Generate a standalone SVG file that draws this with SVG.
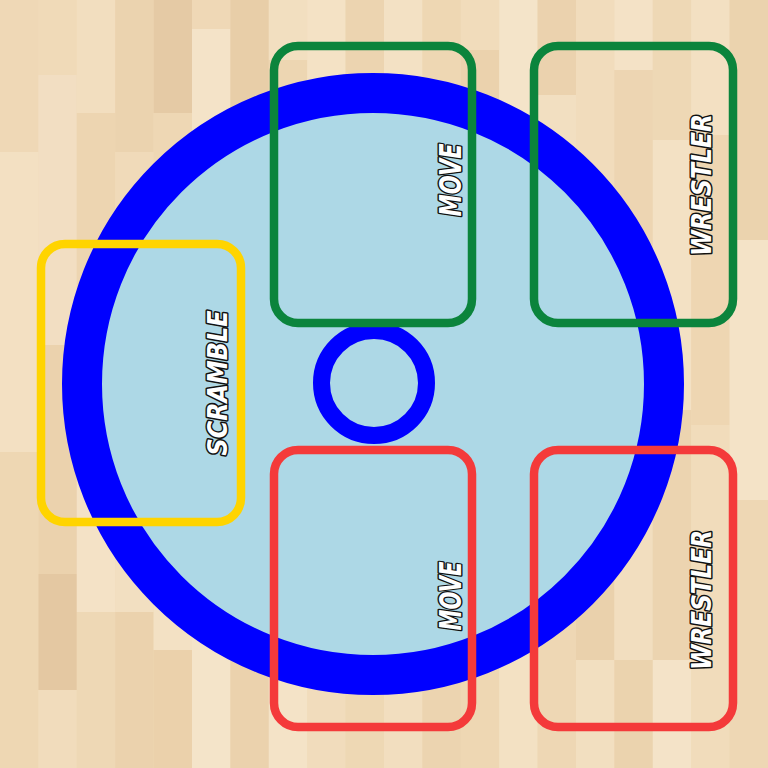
<svg xmlns="http://www.w3.org/2000/svg" width="768" height="768" viewBox="0 0 768 768">
<style>
.box{fill:none;stroke-width:8.5}
.green{stroke:#0b843c}
.red{stroke:#f43a3a}
.yellow{stroke:#ffd400}
.lbl{font-family:"DejaVu Sans Condensed","DejaVu Sans",sans-serif;font-weight:bold;font-style:oblique;fill:#ffffff;stroke:#111111;stroke-width:3;paint-order:stroke fill;stroke-linejoin:round;text-anchor:middle}
</style>
<g id="floor">
<rect x="0" y="0" width="768" height="768" fill="#f0dbb9"/>
<rect x="0" y="0" width="38.4" height="152" fill="#efd8b6"/>
<rect x="0" y="152" width="38.4" height="300" fill="#f3e0c2"/>
<rect x="0" y="452" width="38.4" height="316" fill="#eed7b3"/>
<rect x="38.4" y="0" width="38.4" height="75" fill="#f0dab8"/>
<rect x="38.4" y="75" width="38.4" height="270" fill="#f2dec2"/>
<rect x="38.4" y="345" width="38.4" height="229" fill="#ebd2ad"/>
<rect x="38.4" y="574" width="38.4" height="116" fill="#e4c8a2"/>
<rect x="38.4" y="690" width="38.4" height="78" fill="#f1dcbc"/>
<rect x="76.8" y="0" width="38.4" height="113" fill="#f2debf"/>
<rect x="76.8" y="113" width="38.4" height="187" fill="#edd5b1"/>
<rect x="76.8" y="300" width="38.4" height="312" fill="#f4e2c6"/>
<rect x="76.8" y="612" width="38.4" height="156" fill="#eed8b5"/>
<rect x="115.2" y="0" width="38.4" height="152" fill="#ebd3af"/>
<rect x="115.2" y="152" width="38.4" height="268" fill="#f0dab9"/>
<rect x="115.2" y="420" width="38.4" height="192" fill="#f2dfc1"/>
<rect x="115.2" y="612" width="38.4" height="156" fill="#ebd2ad"/>
<rect x="153.6" y="0" width="38.4" height="113" fill="#e5caa5"/>
<rect x="153.6" y="113" width="38.4" height="267" fill="#eed7b4"/>
<rect x="153.6" y="380" width="38.4" height="270" fill="#f3e1c4"/>
<rect x="153.6" y="650" width="38.4" height="118" fill="#ebd1ab"/>
<rect x="192" y="0" width="38.4" height="29" fill="#efd8b6"/>
<rect x="192" y="29" width="38.4" height="231" fill="#f4e3c8"/>
<rect x="192" y="260" width="38.4" height="350" fill="#ebd3ae"/>
<rect x="192" y="610" width="38.4" height="158" fill="#f4e4c9"/>
<rect x="230.4" y="0" width="38.4" height="180" fill="#e8cea8"/>
<rect x="230.4" y="180" width="38.4" height="240" fill="#f1dcbc"/>
<rect x="230.4" y="420" width="38.4" height="192" fill="#f3e0c2"/>
<rect x="230.4" y="612" width="38.4" height="156" fill="#ebd2ad"/>
<rect x="268.8" y="0" width="38.4" height="60" fill="#f2dfc0"/>
<rect x="268.8" y="60" width="38.4" height="300" fill="#edd6b2"/>
<rect x="268.8" y="360" width="38.4" height="290" fill="#f0dbb9"/>
<rect x="268.8" y="650" width="38.4" height="118" fill="#f4e3c7"/>
<rect x="307.2" y="0" width="38.4" height="140" fill="#f4e2c5"/>
<rect x="307.2" y="140" width="38.4" height="300" fill="#ebd2ae"/>
<rect x="307.2" y="440" width="38.4" height="328" fill="#f1dcbc"/>
<rect x="345.6" y="0" width="38.4" height="90" fill="#ecd4b0"/>
<rect x="345.6" y="90" width="38.4" height="380" fill="#f2dfc0"/>
<rect x="345.6" y="470" width="38.4" height="298" fill="#eed8b4"/>
<rect x="384" y="0" width="38.4" height="200" fill="#f3e1c4"/>
<rect x="384" y="200" width="38.4" height="300" fill="#e9d0ab"/>
<rect x="384" y="500" width="38.4" height="268" fill="#f2debf"/>
<rect x="422.4" y="0" width="38.4" height="120" fill="#eed7b3"/>
<rect x="422.4" y="120" width="38.4" height="330" fill="#f4e3c7"/>
<rect x="422.4" y="450" width="38.4" height="318" fill="#ecd4b0"/>
<rect x="460.8" y="0" width="38.4" height="50" fill="#f1dcbb"/>
<rect x="460.8" y="50" width="38.4" height="260" fill="#ebd2ad"/>
<rect x="460.8" y="310" width="38.4" height="300" fill="#f3e0c3"/>
<rect x="460.8" y="610" width="38.4" height="158" fill="#eed7b3"/>
<rect x="499.2" y="0" width="38.4" height="160" fill="#f4e4c9"/>
<rect x="499.2" y="160" width="38.4" height="280" fill="#eed8b5"/>
<rect x="499.2" y="440" width="38.4" height="210" fill="#e8cea9"/>
<rect x="499.2" y="650" width="38.4" height="118" fill="#f3e1c3"/>
<rect x="537.6" y="0" width="38.4" height="95" fill="#ebd2ae"/>
<rect x="537.6" y="95" width="38.4" height="320" fill="#f2dfc1"/>
<rect x="537.6" y="415" width="38.4" height="353" fill="#eed7b4"/>
<rect x="576" y="0" width="38.4" height="210" fill="#f1dcbc"/>
<rect x="576" y="210" width="38.4" height="250" fill="#f4e3c8"/>
<rect x="576" y="460" width="38.4" height="200" fill="#ead1ac"/>
<rect x="576" y="660" width="38.4" height="108" fill="#f2dfc0"/>
<rect x="614.4" y="0" width="38.4" height="70" fill="#f4e2c6"/>
<rect x="614.4" y="70" width="38.4" height="290" fill="#edd5b2"/>
<rect x="614.4" y="360" width="38.4" height="300" fill="#f2debf"/>
<rect x="614.4" y="660" width="38.4" height="108" fill="#ebd3ae"/>
<rect x="652.8" y="0" width="38.4" height="140" fill="#eed8b5"/>
<rect x="652.8" y="140" width="38.4" height="270" fill="#f3e1c4"/>
<rect x="652.8" y="410" width="38.4" height="250" fill="#ecd4b0"/>
<rect x="652.8" y="660" width="38.4" height="108" fill="#f4e3c8"/>
<rect x="691.2" y="0" width="38.4" height="135" fill="#f3e0c2"/>
<rect x="691.2" y="135" width="38.4" height="290" fill="#eed6b2"/>
<rect x="691.2" y="425" width="38.4" height="343" fill="#f1dcbb"/>
<rect x="729.6" y="0" width="38.4" height="240" fill="#ebd3ae"/>
<rect x="729.6" y="240" width="38.4" height="260" fill="#f4e3c7"/>
<rect x="729.6" y="500" width="38.4" height="268" fill="#eed7b4"/>
</g>
<g id="mat">
<circle cx="373" cy="384" r="291" fill="#add8e6" stroke="#0000ff" stroke-width="40"/>
</g>
<g id="center-ring">
<circle cx="374" cy="383" r="52.5" fill="none" stroke="#0000ff" stroke-width="17"/>
</g>
<g id="move-top">
<rect class="box green" x="274" y="46" width="198" height="277" rx="24"/>
<text class="lbl" transform="translate(461,180) rotate(-90)" font-size="30" textLength="73" lengthAdjust="spacingAndGlyphs">MOVE</text>
</g>
<g id="wrestler-top">
<rect class="box green" x="534" y="46" width="199" height="277" rx="24"/>
<text class="lbl" transform="translate(711,185) rotate(-90)" font-size="26" textLength="142" lengthAdjust="spacingAndGlyphs">WRESTLER</text>
</g>
<g id="scramble">
<rect class="box yellow" x="41" y="244" width="200" height="278" rx="24"/>
<text class="lbl" transform="translate(227,383) rotate(-90)" font-size="26" textLength="145" lengthAdjust="spacingAndGlyphs">SCRAMBLE</text>
</g>
<g id="move-bottom">
<rect class="box red" x="274" y="450" width="198" height="277" rx="24"/>
<text class="lbl" transform="translate(461,596) rotate(-90)" font-size="30" textLength="69" lengthAdjust="spacingAndGlyphs">MOVE</text>
</g>
<g id="wrestler-bottom">
<rect class="box red" x="534" y="450" width="199" height="277" rx="24"/>
<text class="lbl" transform="translate(711,600) rotate(-90)" font-size="26" textLength="140" lengthAdjust="spacingAndGlyphs">WRESTLER</text>
</g>
</svg>
